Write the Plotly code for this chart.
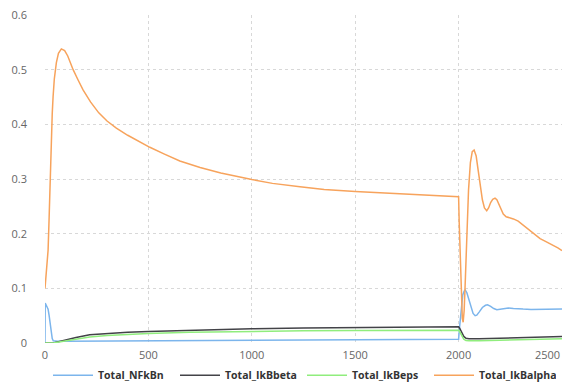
import plotly.graph_objects as go

# ---- data ----
t_alpha = [0, 8, 15, 20, 23, 27, 31, 35, 39, 45, 55, 65, 79, 95, 110, 122, 136, 160, 184, 220, 260, 300,
           345, 400, 450, 507, 575, 652, 750, 850, 1000, 1100, 1233, 1350, 1500, 1600, 1718, 1850, 2000,
           2003, 2008, 2013, 2018, 2022, 2027, 2033, 2040, 2048, 2057, 2066, 2075, 2085, 2095, 2104,
           2115, 2125, 2136, 2145, 2155, 2165, 2176, 2185, 2200, 2216, 2230, 2248, 2265, 2288, 2310,
           2330, 2361, 2394, 2420, 2457, 2480, 2500]
ikbalpha = [0.100, 0.130, 0.170, 0.230, 0.280, 0.330, 0.380, 0.420, 0.450, 0.483, 0.513, 0.530, 0.538,
            0.535, 0.525, 0.513, 0.500, 0.481, 0.463, 0.441, 0.421, 0.406, 0.393, 0.380, 0.369, 0.358, 0.346,
            0.333, 0.321, 0.311, 0.299, 0.292, 0.286, 0.281, 0.277, 0.275, 0.272, 0.270, 0.2675,
            0.220, 0.150, 0.080, 0.045, 0.038, 0.060, 0.120, 0.200, 0.280, 0.330, 0.350, 0.353, 0.342,
            0.315, 0.290, 0.262, 0.247, 0.242, 0.247, 0.257, 0.263, 0.265, 0.262, 0.250, 0.236, 0.231,
            0.229, 0.227, 0.223, 0.216, 0.210, 0.200, 0.191, 0.186, 0.179, 0.174, 0.169]

t_nfkbn = [0, 1, 5, 10, 15, 20, 25, 30, 35, 40, 60, 100, 500, 1000, 1500, 2000, 2005, 2012, 2020,
           2027, 2032, 2040, 2050, 2060, 2070, 2080, 2088, 2100, 2115, 2130, 2140, 2155, 2170, 2185,
           2200, 2220, 2241, 2265, 2290, 2312, 2350, 2400, 2450, 2500]
nfkbn = [0.0, 0.073, 0.070, 0.066, 0.062, 0.050, 0.034, 0.019, 0.008, 0.004, 0.003, 0.003, 0.004,
         0.005, 0.006, 0.007, 0.030, 0.065, 0.088, 0.095, 0.097, 0.092, 0.079, 0.064, 0.054, 0.050,
         0.051, 0.057, 0.065, 0.069, 0.070, 0.067, 0.063, 0.061, 0.0615, 0.063, 0.064, 0.063, 0.062,
         0.062, 0.0615, 0.062, 0.062, 0.062]

t_beta = [0, 40, 60, 100, 150, 216, 300, 400, 500, 700, 1000, 1250, 1500, 1750, 2000, 2005, 2015,
          2025, 2036, 2050, 2100, 2200, 2300, 2400, 2500]
ikbbeta = [0.0, 0.0, 0.002, 0.006, 0.010, 0.015, 0.0175, 0.0195, 0.0210, 0.0235, 0.0260, 0.0275,
           0.0285, 0.0292, 0.0297, 0.0270, 0.0190, 0.0120, 0.0085, 0.0078, 0.0077, 0.0085, 0.0097,
           0.0108, 0.0120]

t_eps = [0, 40, 60, 100, 150, 216, 300, 400, 500, 700, 1000, 1250, 1500, 1750, 2000, 2005, 2015,
         2025, 2036, 2050, 2100, 2200, 2300, 2400, 2500]
ikbeps = [0.0, 0.0, 0.0015, 0.004, 0.0075, 0.011, 0.0135, 0.016, 0.0175, 0.0195, 0.0215, 0.0225,
          0.0230, 0.0231, 0.0232, 0.0210, 0.0130, 0.0070, 0.0045, 0.0040, 0.0040, 0.0048, 0.0058,
          0.0068, 0.0078]

x_ticks = [0, 500, 1000, 1500, 2000, 2500]
x_tick_text = ["0", "500", "1000", "1500", "2000", " "]
y_ticks = [0, 0.1, 0.2, 0.3, 0.4, 0.5, 0.6]
y_tick_text = ["0", "0.1", "0.2", "0.3", "0.4", "0.5", "0.6"]

FONT = "Open Sans"

fig = go.Figure()
series = [
    ("Total_NFkBn", t_nfkbn, nfkbn, "#7cb5ec"),
    ("Total_IkBbeta", t_beta, ikbbeta, "#434348"),
    ("Total_IkBeps", t_eps, ikbeps, "#90ed7d"),
    ("Total_IkBalpha", t_alpha, ikbalpha, "#f7a35c"),
]
for name, xs, ys, col in series:
    fig.add_trace(go.Scatter(x=xs, y=ys, mode="lines", name=name,
                             line=dict(color=col, width=1.5)))

fig.update_layout(
    width=563, height=383,
    margin=dict(l=45, r=1, t=15, b=40, autoexpand=False),
    paper_bgcolor="white", plot_bgcolor="white",
    font=dict(family=FONT, size=11, color="#666666"),
    showlegend=True,
    legend=dict(orientation="h", x=(48 - 45) / 517, xanchor="left", y=-0.098, yanchor="middle",
                bgcolor="rgba(0,0,0,0)",
                font=dict(family=FONT, size=10.5, color="#333333", weight="bold"),
                itemwidth=40, entrywidth=72, entrywidthmode="pixels", traceorder="normal"),
    xaxis=dict(range=[0, 2500], tickvals=x_ticks, ticktext=x_tick_text,
               showgrid=True, gridcolor="#d8d8d8",
               griddash="dot", gridwidth=1, zeroline=False, showline=False, ticks="",
               ticklabelstandoff=4),
    yaxis=dict(range=[0, 0.6], tickvals=y_ticks, ticktext=y_tick_text, showgrid=True,
               gridcolor="#d8d8d8", griddash="dot", gridwidth=1, zeroline=False,
               showline=False, ticks="", ticklabelstandoff=17),
)
# last x tick label is pulled inside the right edge, as in the reference
fig.add_annotation(text="2500", x=1.0, xref="paper", xanchor="right", y=-(354 - 343) / 328,
                   yref="paper", yanchor="middle", showarrow=False,
                   font=dict(family=FONT, size=11, color="#666666"))

fig.write_html("out.html", config={"displayModeBar": False},
               post_script="document.body.style.margin='0';document.body.style.padding='0';")
